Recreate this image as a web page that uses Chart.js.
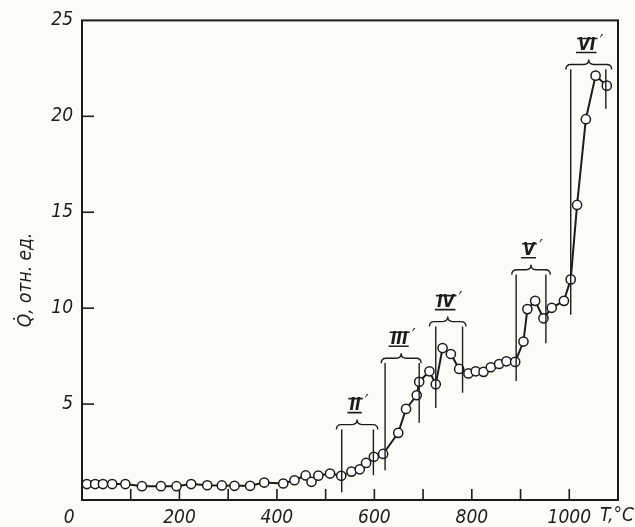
<!DOCTYPE html>
<html>
<head>
<meta charset="utf-8">
<script src="https://cdn.jsdelivr.net/npm/chart.js@4/dist/chart.umd.min.js"></script>
<style>
  html, body { margin: 0; padding: 0; background: #fcfcf7; }
  #wrap { width: 635px; height: 527px; position: relative; }
</style>
</head>
<body>
<div id="wrap"><canvas id="c" width="635" height="527"></canvas></div>
<script>
// ---- data ----
const temps  = [10, 27, 43, 62, 89, 123, 162, 194, 224, 257, 287, 313, 345, 374, 413, 436, 459, 471, 485, 509, 532, 553, 570, 583, 599, 618, 649, 665, 687, 692, 713, 726, 740, 757, 774, 793, 808, 824, 839, 856, 871, 889, 906, 914, 930, 947, 964, 989, 1003, 1016, 1034, 1054, 1077];
const values = [0.83, 0.83, 0.83, 0.83, 0.83, 0.72, 0.72, 0.72, 0.83, 0.77, 0.76, 0.74, 0.74, 0.91, 0.86, 1.03, 1.28, 0.95, 1.27, 1.38, 1.26, 1.48, 1.6, 1.93, 2.25, 2.4, 3.5, 4.75, 5.46, 6.16, 6.71, 6.03, 7.92, 7.61, 6.83, 6.6, 6.71, 6.68, 6.92, 7.09, 7.23, 7.2, 8.26, 9.95, 10.38, 9.47, 10.02, 10.38, 11.5, 15.38, 19.85, 22.12, 21.6];

const xLabelTicks = [0, 200, 400, 600, 800, 1000];
const yLabelTicks = [5, 10, 15, 20, 25];
const xTitle = 'T,°C';
const yTitle = 'Q̇, отн. ед.';

// zones (temperature intervals) marked with braces
const zoneNumerals = ['II', 'III', 'IV', 'V', 'VI'];
const zoneLeftT    = [533, 622, 726, 891, 1003];
const zoneRightT   = [598, 692, 781, 952, 1075];
const zoneLeftLow  = [0.41, 1.55, 4.80, 6.2, 9.66];
const zoneRightLow = [1.29, 4.03, 5.59, 8.17, 20.4];
const braceFromT   = [522, 614, 713, 882, 993];
const braceToT     = [607, 696, 788, 961, 1087];
const braceQ       = [3.93, 7.39, 9.3, 12.0, 22.7];

const INK = '#1c1c1c';
const FONT = "'Liberation Sans Narrow', 'DejaVu Sans Condensed', 'Liberation Sans', sans-serif";

const points = temps.map((t, i) => ({ x: t, y: values[i] }));

const decor = {
  id: 'decor',
  afterDraw(chart) {
    const ctx = chart.ctx;
    const xs = chart.scales.x, ys = chart.scales.y;
    const a = chart.chartArea;
    ctx.save();
    // frame
    ctx.strokeStyle = INK;
    ctx.lineWidth = 2;
    ctx.strokeRect(a.left, a.top, a.right - a.left, a.bottom - a.top);
    // inward tick marks
    ctx.lineWidth = 1.6;
    xs.ticks.forEach(t => {
      if (t.value <= xs.min || t.value >= xs.max) return;
      const px = xs.getPixelForValue(t.value);
      ctx.beginPath(); ctx.moveTo(px, a.bottom); ctx.lineTo(px, a.bottom - 11); ctx.stroke();
    });
    ys.ticks.forEach(t => {
      if (t.value <= ys.min || t.value >= ys.max) return;
      const py = ys.getPixelForValue(t.value);
      ctx.beginPath(); ctx.moveTo(a.left, py); ctx.lineTo(a.left + 12, py); ctx.stroke();
    });
    // zone verticals, braces and labels
    ctx.lineWidth = 1.4;
    for (let i = 0; i < zoneNumerals.length; i++) {
      const top = braceQ[i] - 0.25;
      const xl = xs.getPixelForValue(zoneLeftT[i]);
      const xr = xs.getPixelForValue(zoneRightT[i]);
      ctx.beginPath();
      ctx.moveTo(xl, ys.getPixelForValue(zoneLeftLow[i])); ctx.lineTo(xl, ys.getPixelForValue(top));
      ctx.moveTo(xr, ys.getPixelForValue(zoneRightLow[i])); ctx.lineTo(xr, ys.getPixelForValue(top));
      ctx.stroke();
      const x1 = xs.getPixelForValue(braceFromT[i]);
      const x2 = xs.getPixelForValue(braceToT[i]);
      const y = ys.getPixelForValue(braceQ[i]);
      const xm = (x1 + x2) / 2;
      ctx.beginPath();
      ctx.moveTo(x1, y + 5);
      ctx.quadraticCurveTo(x1, y, x1 + 5, y);
      ctx.lineTo(xm - 5, y);
      ctx.quadraticCurveTo(xm, y, xm, y - 5);
      ctx.quadraticCurveTo(xm, y, xm + 5, y);
      ctx.lineTo(x2 - 5, y);
      ctx.quadraticCurveTo(x2, y, x2, y + 5);
      ctx.stroke();
      // label
      ctx.font = "italic bold 17px " + FONT;
      ctx.fillStyle = INK;
      ctx.textAlign = 'center';
      ctx.textBaseline = 'middle';
      const ly = y - 19;
      const w = ctx.measureText(zoneNumerals[i]).width;
      ctx.fillText(zoneNumerals[i], xm - 2, ly);
      ctx.lineWidth = 1.6;
      ctx.beginPath();
      ctx.moveTo(xm - 2 - w / 2 - 1, ly - 7); ctx.lineTo(xm - 2 + w / 2 + 2, ly - 7);
      ctx.moveTo(xm - 2 - w / 2 - 2, ly + 7); ctx.lineTo(xm - 2 + w / 2 + 1, ly + 7);
      ctx.stroke();
      ctx.lineWidth = 1.4;
      ctx.font = "italic 17px " + FONT;
      ctx.fillText('′', xm - 2 + w / 2 + 6, ly - 3);
    }
    // axis titles
    ctx.fillStyle = INK;
    ctx.font = "italic 19px " + FONT;
    ctx.textAlign = 'right';
    ctx.textBaseline = 'middle';
    ctx.fillText(xTitle, 634, 516);
    ctx.translate(26, 280);
    ctx.rotate(-Math.PI / 2);
    ctx.textAlign = 'center';
    ctx.fillText(yTitle, 0, 0);
    ctx.restore();
  }
};

new Chart(document.getElementById('c'), {
  type: 'line',
  data: {
    datasets: [{
      data: points,
      borderColor: INK,
      borderWidth: 2,
      backgroundColor: '#ffffff',
      pointBackgroundColor: '#ffffff',
      pointBorderColor: INK,
      pointBorderWidth: 1.5,
      pointRadius: 4.6,
      tension: 0
    }]
  },
  options: {
    responsive: false,
    animation: false,
    events: [],
    layout: { padding: { top: 16, right: 17, left: 0, bottom: 0 } },
    plugins: { legend: { display: false }, tooltip: { enabled: false } },
    scales: {
      x: {
        type: 'linear', min: 0, max: 1100,
        grid: { display: false, drawTicks: false },
        border: { display: false },
        afterFit(s) { s.height = 27; },
        afterBuildTicks(s) {
          const arr = [];
          for (let v = 0; v <= 1100; v += 100) arr.push({ value: v });
          s.ticks = arr;
        },
        ticks: {
          autoSkip: false, maxRotation: 0, padding: 7,
          color: INK,
          font: { family: FONT, size: 19, style: 'italic' },
          callback(v) {
            if (!xLabelTicks.includes(v)) return '';
            return v === 0 ? '0\u2002\u2002\u2002' : String(v);
          }
        }
      },
      y: {
        type: 'linear', min: 0, max: 25,
        grid: { display: false, drawTicks: false },
        border: { display: false },
        afterFit(s) { s.width = 82; },
        afterBuildTicks(s) {
          const arr = [];
          for (let v = 0; v <= 25; v += 5) arr.push({ value: v });
          s.ticks = arr;
        },
        ticks: {
          autoSkip: false, padding: 9,
          color: INK,
          font: { family: FONT, size: 19, style: 'italic' },
          callback(v) { return yLabelTicks.includes(v) ? String(v) : ''; }
        }
      }
    }
  },
  plugins: [decor]
});
</script>
</body>
</html>
